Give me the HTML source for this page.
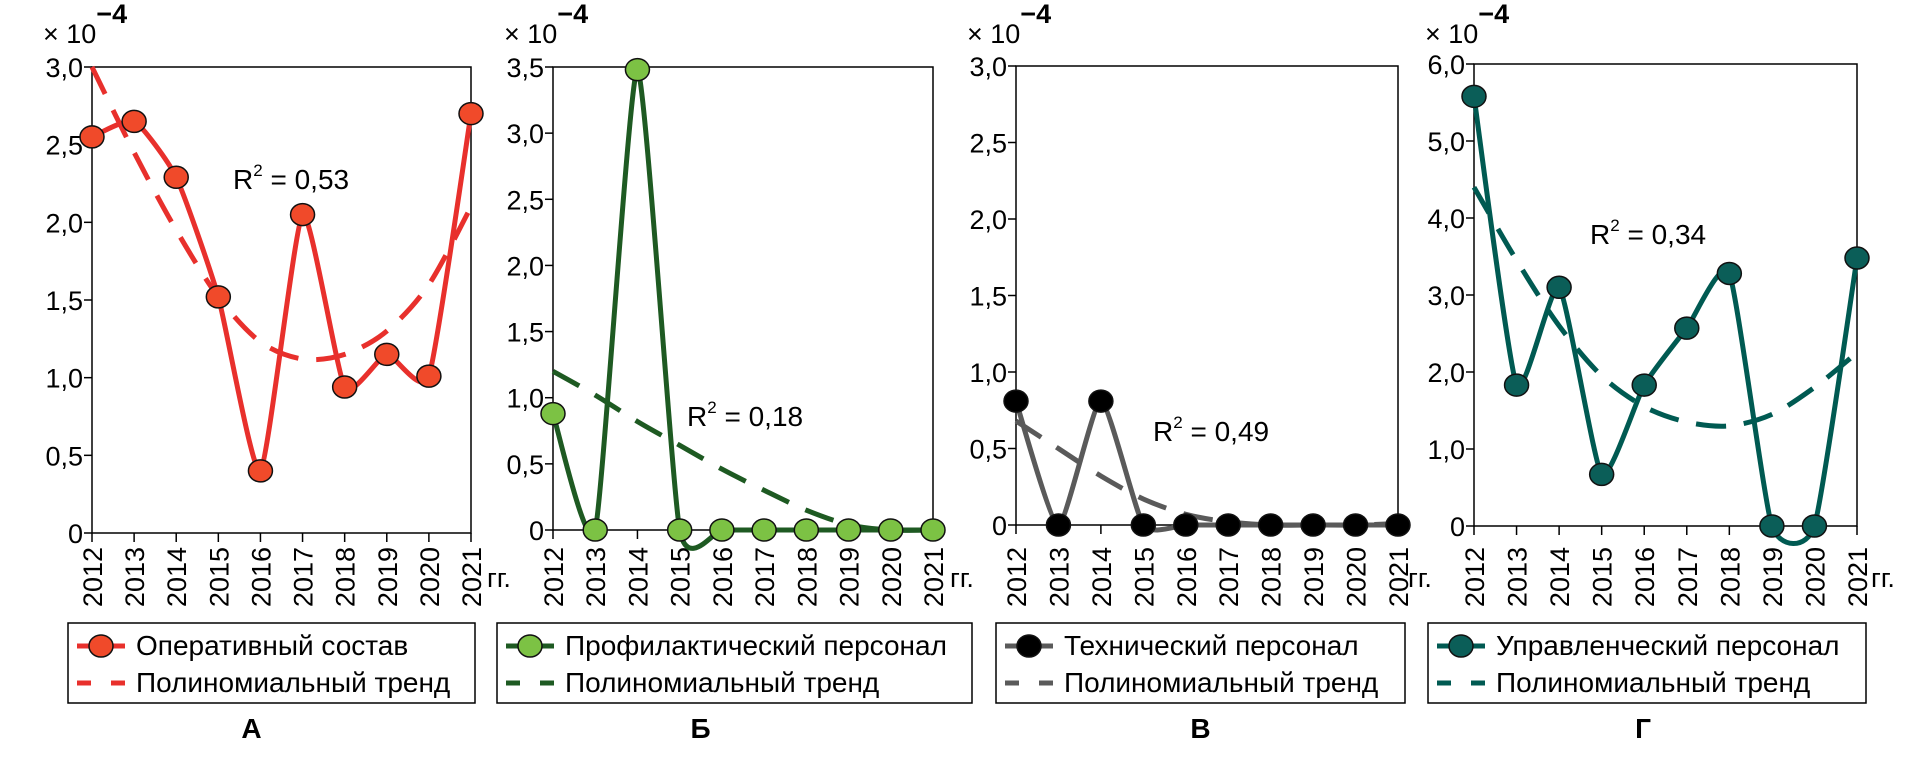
<!DOCTYPE html>
<html><head><meta charset="utf-8">
<style>
html,body{margin:0;padding:0;background:#fff;}
svg{display:block;font-family:"Liberation Sans",Arial,sans-serif;}
</style></head>
<body>
<svg id="chart" width="1928" height="760" viewBox="0 0 1928 760" xmlns="http://www.w3.org/2000/svg"></svg>
<script>
const years = ["2012","2013","2014","2015","2016","2017","2018","2019","2020","2021"];
const valuesA = [2.55, 2.65, 2.29, 1.52, 0.40, 2.05, 0.94, 1.15, 1.01, 2.70];
const trendA  = [3.00, 2.45, 1.95, 1.52, 1.23, 1.12, 1.15, 1.30, 1.60, 2.10];
const valuesB = [0.88, 0, 3.48, 0, 0, 0, 0, 0, 0, 0];
const trendB  = [1.20, 1.02, 0.82, 0.64, 0.46, 0.30, 0.15, 0.04, 0, 0];
const valuesC = [0.81, 0, 0.81, 0, 0, 0, 0, 0, 0, 0];
const trendC  = [0.68, 0.50, 0.32, 0.17, 0.07, 0.02, 0, 0, 0, 0.01];
const valuesD = [5.58, 1.83, 3.10, 0.67, 1.83, 2.57, 3.28, 0, 0, 3.48];
const trendD  = [4.40, 3.45, 2.60, 1.95, 1.55, 1.35, 1.30, 1.45, 1.80, 2.25];
const ticksA = ["0","0,5","1,0","1,5","2,0","2,5","3,0"];
const ticksB = ["0","0,5","1,0","1,5","2,0","2,5","3,0","3,5"];
const ticksC = ["0","0,5","1,0","1,5","2,0","2,5","3,0"];
const ticksD = ["0","1,0","2,0","3,0","4,0","5,0","6,0"];
const seriesNames = ["Оперативный состав","Профилактический персонал","Технический персонал","Управленческий персонал"];
const r2Labels = ["0,53","0,18","0,49","0,34"];
const panelLetters = ["А","Б","В","Г"];

const NS="http://www.w3.org/2000/svg";
const svg=document.getElementById('chart');
function mk(tag,attrs,parent){const e=document.createElementNS(NS,tag);for(const k in attrs)e.setAttribute(k,attrs[k]);(parent||svg).appendChild(e);return e;}

const layout=[
 {l:92,r:471,t:67,b:533,max:3.0,step:0.5,ticks:ticksA,vals:valuesA,trend:trendA,line:"#e8302c",fill:"#f04a2a",trc:"#e8302c",lg:[68,475],r2:[233,189],gg:487},
 {l:553,r:933,t:67,b:530,max:3.5,step:0.5,ticks:ticksB,vals:valuesB,trend:trendB,line:"#1e5a22",fill:"#7cc244",trc:"#1e5a22",lg:[497,972],r2:[687,426],gg:950},
 {l:1016,r:1398,t:66,b:525,max:3.0,step:0.5,ticks:ticksC,vals:valuesC,trend:trendC,line:"#5a5a5a",fill:"#000",trc:"#5a5a5a",lg:[996,1405],r2:[1153,441],gg:1408},
 {l:1474,r:1857,t:64,b:526,max:6.0,step:1.0,ticks:ticksD,vals:valuesD,trend:trendD,line:"#005a52",fill:"#0b5e58",trc:"#005a52",lg:[1428,1866],r2:[1590,244],gg:1871}
];

function smooth(pts,ten){
  let d="M"+pts[0][0]+","+pts[0][1];
  for(let i=0;i<pts.length-1;i++){
    const p0=pts[Math.max(0,i-1)],p1=pts[i],p2=pts[i+1],p3=pts[Math.min(pts.length-1,i+2)];
    const t=ten;
    const c1=[p1[0]+(p2[0]-p0[0])*t,p1[1]+(p2[1]-p0[1])*t];
    const c2=[p2[0]-(p3[0]-p1[0])*t,p2[1]-(p3[1]-p1[1])*t];
    d+=" C"+c1[0].toFixed(1)+","+c1[1].toFixed(1)+" "+c2[0].toFixed(1)+","+c2[1].toFixed(1)+" "+p2[0].toFixed(1)+","+p2[1].toFixed(1);
  }
  return d;
}

layout.forEach((P,pi)=>{
  const g=mk('g',{});
  
  
  const xs=i=>P.l+(P.r-P.l)*i/(years.length-1);
  const ys=v=>P.b-(P.b-P.t)*v/P.max;
  const fr=mk('rect',{x:P.l,y:P.t,width:P.r-P.l,height:P.b-P.t,fill:"none",stroke:"#000","stroke-width":1.5},g);
  
  
  P.ticks.forEach((lab,i)=>{
    const y=ys(i*P.step);
    mk('line',{x1:P.l-8,x2:P.l,y1:y,y2:y,stroke:"#000","stroke-width":1.5},g);
    const t=mk('text',{x:P.l-9,y:y+10,"font-size":27,"text-anchor":"end",fill:"#000"},g);
    t.textContent=lab;
    
    
  });
  const ex=mk('text',{x:P.l-49,y:43,"font-size":27,fill:"#000"},g);
  
  
  ex.innerHTML='× 10<tspan dy="-20" font-size="27" font-weight="bold">−4</tspan>';
  years.forEach((yr,i)=>{
    const x=xs(i);
    mk('line',{x1:x,x2:x,y1:P.b,y2:P.b+9,stroke:"#000","stroke-width":1.5},g);
    const t=mk('text',{x:0,y:0,"font-size":27,"text-anchor":"end",fill:"#000",transform:"translate("+(x+10)+",547) rotate(-90)"},g);
    t.textContent=yr;
    
    
  });
  const gg=mk('text',{x:P.gg,y:587,"font-size":27,fill:"#000"},g);
  gg.textContent="гг.";
  
  
  const tp=mk('path',{d:smooth(P.trend.map((v,i)=>[xs(i),ys(v)]),0.15),fill:"none",stroke:P.trc,"stroke-width":5,"stroke-dasharray":"30 18"},g);
  
  
  const sp=mk('path',{d:smooth(P.vals.map((v,i)=>[xs(i),ys(v)]),0.09),fill:"none",stroke:P.line,"stroke-width":5},g);
  
  
  P.vals.forEach((v,i)=>{
    const c=mk('ellipse',{cx:xs(i),cy:ys(v),rx:12,ry:11,fill:P.fill,stroke:"#111","stroke-width":1.5},g);
    
    
  });
  const r=mk('text',{x:P.r2[0],y:P.r2[1],"font-size":28,fill:"#000"},g);
  r.innerHTML='R<tspan dy="-13" font-size="17">2</tspan><tspan dy="13"> = '+r2Labels[pi]+'</tspan>';
  
  
  const L=mk('g',{},g);
  
  
  mk('rect',{x:P.lg[0],y:623,width:P.lg[1]-P.lg[0],height:80,fill:"#fff",stroke:"#000","stroke-width":1.5},L);
  const lx=P.lg[0]+9;
  mk('line',{x1:lx,x2:lx+48,y1:646,y2:646,stroke:P.line,"stroke-width":5},L);
  mk('ellipse',{cx:lx+24,cy:646,rx:12,ry:11,fill:P.fill,stroke:"#111","stroke-width":1.5},L);
  mk('line',{x1:lx,x2:lx+48,y1:683,y2:683,stroke:P.trc,"stroke-width":5,"stroke-dasharray":"14 20"},L);
  const t1=mk('text',{x:lx+59,y:655,"font-size":28,fill:"#000"},L);
  t1.textContent=seriesNames[pi];
  
  
  const t2=mk('text',{x:lx+59,y:692,"font-size":28,fill:"#000"},L);
  t2.textContent="Полиномиальный тренд";
  
  
  const pl=mk('text',{x:(P.lg[0]+P.lg[1])/2+(pi==0?-20:(pi==1?-34:(pi==2?0:-4))),y:738,"font-size":28,"font-weight":"bold","text-anchor":"middle",fill:"#000"},g);
  pl.textContent=panelLetters[pi];
  
  
});
</script>
</body></html>
